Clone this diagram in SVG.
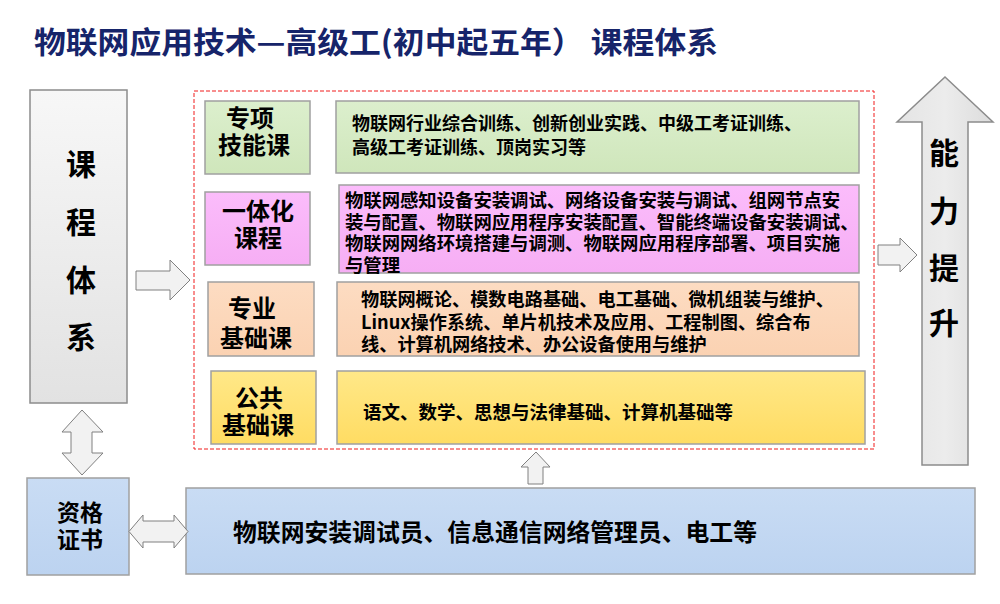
<svg xmlns="http://www.w3.org/2000/svg" width="1000" height="604" viewBox="0 0 1000 604">
<defs>
<linearGradient id="gGrey" x1="0" y1="0" x2="0" y2="1"><stop offset="0" stop-color="#f7f7f7"/><stop offset="1" stop-color="#e2e2e2"/></linearGradient>
<linearGradient id="gGreyH" x1="0" y1="0" x2="1" y2="0"><stop offset="0" stop-color="#e4e4e4"/><stop offset="0.5" stop-color="#ececec"/><stop offset="1" stop-color="#dcdcdc"/></linearGradient>
<linearGradient id="gGreen" x1="0" y1="0" x2="0" y2="1"><stop offset="0" stop-color="#dcefcd"/><stop offset="1" stop-color="#cfe6bb"/></linearGradient>
<linearGradient id="gPink" x1="0" y1="0" x2="0" y2="1"><stop offset="0" stop-color="#fbbcfb"/><stop offset="1" stop-color="#f6aef4"/></linearGradient>
<linearGradient id="gPeach" x1="0" y1="0" x2="0" y2="1"><stop offset="0" stop-color="#fddcc2"/><stop offset="1" stop-color="#fbd2b2"/></linearGradient>
<linearGradient id="gYellow" x1="0" y1="0" x2="0" y2="1"><stop offset="0" stop-color="#ffe888"/><stop offset="1" stop-color="#ffdc63"/></linearGradient>
<linearGradient id="gBlue" x1="0" y1="0" x2="0" y2="1"><stop offset="0" stop-color="#c9dcf4"/><stop offset="1" stop-color="#bcd3f0"/></linearGradient>
</defs>
<style>
.t{font-family:"Noto Sans CJK SC","Noto Sans",sans-serif;font-weight:700;fill:#000}
.box{stroke:#a0a0a0;stroke-width:1.5}
.arr{fill:#f2f2f2;stroke:#808080;stroke-width:1}
.s18{font-size:18px}
.lab{font-size:24px;text-anchor:middle}
.big{font-size:30px;text-anchor:middle}
</style>

<text x="34" y="53" class="t" style="font-size:30px;fill:#16246a" textLength="684" lengthAdjust="spacingAndGlyphs">物联网应用技术—高级工(初中起五年） 课程体系</text>

<g id="curriculum">
<rect x="30" y="90" width="97" height="313" fill="url(#gGrey)" stroke="#8c8c8c" stroke-width="1.5"/>
<text class="t big"><tspan x="81" y="175">课</tspan><tspan x="81" y="233">程</tspan><tspan x="81" y="291">体</tspan><tspan x="81" y="348">系</tspan></text>
</g>

<g id="container">
<rect x="194" y="91" width="680" height="358" fill="none" stroke="#f01c1c" stroke-width="1" stroke-dasharray="4,2"/>
</g>

<g id="row-special">
<rect x="205" y="101" width="105" height="73" fill="url(#gGreen)" class="box"/>
<text class="t lab"><tspan x="250" y="127">专项</tspan><tspan x="254" y="154">技能课</tspan></text>
<rect x="336" y="101" width="523" height="72" fill="url(#gGreen)" class="box"/>
<text class="t s18"><tspan x="352" y="129.5">物联网行业综合训练、创新创业实践、中级工考证训练、</tspan><tspan x="352" y="153.5">高级工考证训练、顶岗实习等</tspan></text>
</g>

<g id="row-integrated">
<rect x="205" y="192" width="105" height="73" fill="url(#gPink)" class="box"/>
<text class="t lab"><tspan x="258" y="220">一体化</tspan><tspan x="258" y="247">课程</tspan></text>
<rect x="339" y="185" width="520" height="88" fill="url(#gPink)" class="box"/>
<text class="t s18" style="font-size:18.4px;letter-spacing:-0.05px"><tspan x="345" y="206.5">物联网感知设备安装调试、网络设备安装与调试、组网节点安</tspan><tspan x="345" y="228.5">装与配置、物联网应用程序安装配置、智能终端设备安装调试、</tspan><tspan x="345" y="249.5">物联网网络环境搭建与调测、物联网应用程序部署、项目实施</tspan><tspan x="345" y="271.5">与管理</tspan></text>
</g>

<g id="row-professional">
<rect x="208" y="282" width="106" height="74" fill="url(#gPeach)" class="box"/>
<text class="t lab"><tspan x="252" y="316.5">专业</tspan><tspan x="256" y="346.5">基础课</tspan></text>
<rect x="337" y="282" width="522" height="74" fill="url(#gPeach)" class="box"/>
<text class="t s18" style="font-size:18.2px"><tspan x="361" y="305.5">物联网概论、模数电路基础、电工基础、微机组装与维护、</tspan><tspan x="361" y="328.5">Linux操作系统、单片机技术及应用、工程制图、综合布</tspan><tspan x="361" y="351">线、计算机网络技术、办公设备使用与维护</tspan></text>
</g>

<g id="row-public">
<rect x="211" y="371" width="105" height="73" fill="url(#gYellow)" class="box"/>
<text class="t lab"><tspan x="259" y="406.5">公共</tspan><tspan x="258" y="433.5">基础课</tspan></text>
<rect x="337" y="371" width="528" height="73" fill="url(#gYellow)" class="box"/>
<text x="363" y="418.5" class="t s18" style="font-size:18.5px">语文、数学、思想与法律基础、计算机基础等</text>
</g>

<g id="ability">
<polygon points="945,77 993,122 968,122 968,465 922,465 922,122 897,122" fill="url(#gGreyH)" stroke="#8c8c8c" stroke-width="1.5"/>
<text class="t big"><tspan x="944" y="164">能</tspan><tspan x="944" y="222">力</tspan><tspan x="944" y="279">提</tspan><tspan x="944" y="334">升</tspan></text>
</g>

<g id="certificate">
<rect x="27" y="478" width="102" height="97" fill="url(#gBlue)" class="box"/>
<text class="t" style="font-size:23px;text-anchor:middle"><tspan x="80" y="521">资格</tspan><tspan x="80" y="548">证书</tspan></text>
</g>

<g id="jobs">
<rect x="186" y="488" width="789" height="86" fill="url(#gBlue)" class="box"/>
<text x="233" y="540.5" class="t" style="font-size:24px" textLength="524" lengthAdjust="spacingAndGlyphs">物联网安装调试员、信息通信网络管理员、电工等</text>
</g>

<g id="connectors">
<polygon class="arr" points="136,271 170,271 170,260 190,280 170,300 170,290 136,290"/>
<polygon class="arr" points="878,245 900,245 900,238 917,255 900,272 900,265 878,265"/>
<polygon class="arr" points="82,410 103,432 92,432 92,453 103,453 82,475 62,453 71,453 71,432 62,432"/>
<polygon class="arr" points="129,531.5 143,515 143,521 174,521 174,515 188,531.5 174,548 174,542 143,542 143,548"/>
<polygon class="arr" points="536,452 550,467 543,467 543,484 528,484 528,467 521,467"/>
</g>
</svg>
